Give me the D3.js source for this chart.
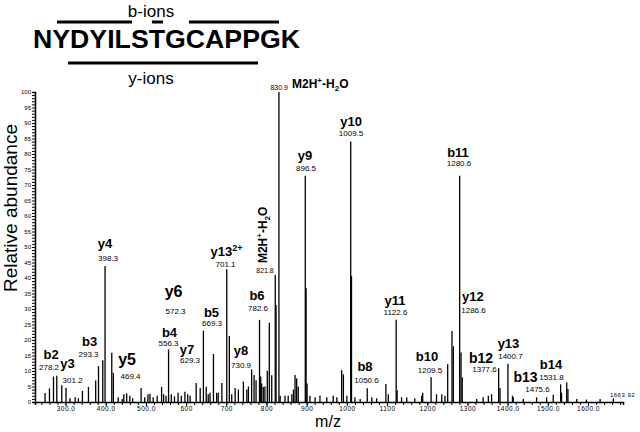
<!DOCTYPE html>
<html>
<head>
<meta charset="utf-8">
<script src="https://cdn.jsdelivr.net/npm/d3@7"></script>
<style>
  body { margin: 0; background: #fff; }
  svg { font-family: "Liberation Sans", Arial, sans-serif; }
</style>
</head>
<body>
<div id="chart"></div>
<script>
// peptide + fragment coverage
const sequence = "NYDYILSTGCAPPGK";

// labelled / major peaks: m/z and relative abundance (%)
const peakMz = [249, 260, 270, 278.2, 290.6, 301.2, 342, 357, 375, 382, 392.6, 398.3, 415, 419,
    488, 539, 556.3, 625, 635, 643, 650, 668, 676, 689, 701.1, 707.5, 722, 742.5, 763, 769,
    782.6, 785.6, 792, 802, 807, 813, 821.8, 823.7, 830.9, 871, 875, 879, 896.5, 898.5, 901,
    987, 991.3, 1009.5, 1011.5, 1050.6, 1097, 1122.6, 1125, 1188.6, 1209.5, 1250.8, 1261.5,
    1264.8, 1280.6, 1284, 1287, 1377.6, 1381, 1400.7, 1412, 1513.5, 1531.8, 1534, 1547, 1550];
const peakInt = [2.9, 4.4, 8.2, 8.5, 5.4, 4.6, 3.6, 4.9, 6.9, 11.6, 13.5, 43.9, 15.9, 9.4,
    4.5, 4.9, 17, 6.1, 4.5, 23, 4.9, 15.5, 3, 6.1, 42.8, 21.3, 4.5, 6.6, 10.5, 8.7,
    26.5, 8.2, 4.8, 10.1, 25.6, 8.6, 41, 31.3, 100, 8.7, 7.6, 5, 73, 36.7, 6,
    10.3, 8.9, 84, 40.6, 4.4, 5.8, 26.5, 3.8, 3, 8, 12.2, 22.9,
    18, 73, 16, 8, 10.9, 4.5, 12.3, 2, 2.3, 5.7, 3, 6.3, 4.2];

// small background peaks
const noiseMz = [311, 324, 332, 431, 441, 445, 452, 460, 467, 497, 505, 510, 518, 528, 544, 550,
    563, 571, 580, 588, 597, 604, 610, 655, 659.5, 680, 713.5, 730, 751, 755, 774, 788, 796,
    834, 846, 854, 863, 867, 908, 921, 933, 950, 966, 975, 1000, 1020, 1033, 1062, 1074,
    1103, 1136, 1149, 1169, 1186, 1223, 1236, 1244, 1323, 1339, 1352, 1360, 1414, 1439,
    1472, 1497, 1572, 1596, 1630, 1663];
const noiseInt = [1.2, 1.5, 1.2, 1.5, 1, 2.5, 2.8, 2, 1.2, 1.5, 2.5, 2.7, 1.5, 2, 2.5, 2,
    2.5, 1.8, 3, 2, 3.3, 2.5, 2, 2.5, 3, 3, 2.5, 4, 4, 5, 7, 6, 5,
    2, 2, 2, 2.5, 4, 2, 1.5, 2, 1.5, 2, 1.5, 2, 1.5, 1, 1.5, 1.2,
    2.5, 1.5, 1.5, 1.2, 2, 2.5, 2.5, 2, 1, 1.5, 2, 2.5, 1.5, 1,
    1.5, 1.5, 1, 0.8, 1, 1.2];

// ion annotations: name, m/z text, name anchor [m/z, %], number anchor [m/z, %], font size
const ionLabels = [
    ["b2", "278.2", 264.0, 13.9, 259.0, 10.3, 13],
    ["y3", "301.2", 305.0, 11.0, 317.5, 6.1, 13],
    ["b3", "293.3", 359.7, 18.1, 357.2, 14.5, 13],
    ["y4", "398.3", 398.3, 49.7, 405.8, 45.5, 13],
    ["y5", "469.4", 453.0, 11.9, 461.7, 7.4, 16],
    ["y6", "572.3", 568.7, 33.9, 573.7, 28.4, 16],
    ["b4", "556.3", 558.7, 21.0, 556.3, 18.1, 13],
    ["y7", "629.3", 602.3, 15.5, 609.7, 12.6, 13],
    ["b5", "669.3", 663.2, 27.4, 664.5, 24.5, 13],
    ["y8", "730.9", 736.6, 15.2, 736.6, 11.0, 13],
    ["b6", "782.6", 776.4, 32.9, 778.9, 29.4, 13],
    ["y9", "896.5", 895.8, 78.1, 898.3, 74.5, 13],
    ["y10", "1009.5", 1010.3, 89.0, 1010.3, 85.8, 13],
    ["b8", "1050.6", 1045.1, 10.0, 1048.8, 6.1, 13],
    ["y11", "1122.6", 1119.7, 31.3, 1120.9, 28.1, 13],
    ["b10", "1209.5", 1199.3, 13.2, 1206.8, 9.4, 13],
    ["b11", "1280.6", 1276.4, 79.0, 1278.9, 76.1, 13],
    ["y12", "1286.6", 1313.7, 32.6, 1315.0, 28.7, 13],
    ["b12", "1377.6", 1333.6, 12.6, 1342.4, 9.7, 14],
    ["y13", "1400.7", 1402.1, 17.4, 1407.0, 13.9, 13],
    ["b13", "1475.6", 1444.4, 6.5, 1474.2, 3.2, 14],
    ["b14", "1531.8", 1507.8, 10.6, 1509.0, 7.1, 13]
];

const xTicks = [300, 400, 500, 600, 700, 800, 900, 1000, 1100, 1200, 1300, 1400, 1500, 1600];
const xTickLabels = ["300.0", "400.0", "500.0", "600", "700", "800", "900", "1000", "1100", "1200", "1300", "1400.0", "1500.0", "1600.0"];

let width = 640, height = 432;
let x = d3.scaleLinear().domain([224, 1687]).range([35, 623]);
let y = d3.scaleLinear().domain([0, 100]).range([402, 92]);

let svg = d3.select('#chart').append('svg')
    .attr('width', width)
    .attr('height', height);

// --- sequence header
svg.append('text').attr('x', 151).attr('y', 17)
    .attr('text-anchor', 'middle').style('font-size', '17px').text('b-ions');
svg.append('text').attr('x', 33).attr('y', 48)
    .style('font-size', '25px').style('font-weight', 'bold')
    .attr('textLength', 267).attr('lengthAdjust', 'spacingAndGlyphs')
    .text(sequence);
[[57, 132, 22], [152, 163, 22], [189, 279, 22], [68, 258, 63]].forEach(function(s) {
    svg.append('line').attr('x1', s[0]).attr('x2', s[1]).attr('y1', s[2]).attr('y2', s[2])
        .attr('stroke', '#000').attr('stroke-width', 3);
});
svg.append('text').attr('x', 151).attr('y', 84)
    .attr('text-anchor', 'middle').style('font-size', '17px').text('y-ions');

// --- axes
let yAxis = d3.axisLeft(y)
    .tickValues(d3.range(0, 101, 1))
    .tickSize(3)
    .tickPadding(1)
    .tickFormat(function(d) { return d % 5 === 0 ? d : ''; });
svg.append('g').attr('transform', 'translate(35,0)').call(yAxis)
    .call(function(g) {
        g.select('.domain').attr('stroke-width', 1.5);
        g.selectAll('text').style('font-size', '6px').style('font-family', '"Liberation Sans", Arial, sans-serif');
    });

let xMinor = d3.axisBottom(x).tickValues(d3.range(240, 1681, 20)).tickSize(3).tickFormat('');
svg.append('g').attr('transform', 'translate(0,402)').call(xMinor)
    .call(function(g) { g.select('.domain').attr('stroke-width', 1.5); });

let xAxis = d3.axisBottom(x).tickValues(xTicks).tickSize(4).tickPadding(0)
    .tickFormat(function(d, i) { return xTickLabels[i]; });
svg.append('g').attr('transform', 'translate(0,402)').call(xAxis)
    .call(function(g) {
        g.select('.domain').remove();
        g.selectAll('text').style('font-size', '6.5px').style('letter-spacing', '0.5px')
            .style('font-family', '"Liberation Sans", Arial, sans-serif');
    });

// --- peaks
let peaks = peakMz.map(function(m, i) { return {mz: m, v: peakInt[i]}; })
    .concat(noiseMz.map(function(m, i) { return {mz: m, v: noiseInt[i]}; }));
svg.append('g').selectAll('line').data(peaks).enter().append('line')
    .attr('x1', function(d) { return x(d.mz); })
    .attr('x2', function(d) { return x(d.mz); })
    .attr('y1', y(0))
    .attr('y2', function(d) { return y(d.v); })
    .attr('stroke', '#000')
    .attr('stroke-width', 1.3);

// --- annotations
let ann = svg.append('g');
ionLabels.forEach(function(l) {
    ann.append('text').attr('x', x(l[2])).attr('y', y(l[3]))
        .attr('text-anchor', 'middle')
        .style('font-size', l[6] + 'px').style('font-weight', 'bold')
        .text(l[0]);
    ann.append('text').attr('x', x(l[4])).attr('y', y(l[5]))
        .attr('text-anchor', 'middle').style('font-size', '8px')
        .text(l[1]);
});

// y13 doubly charged
let y13 = ann.append('text').attr('x', x(700.5)).attr('y', y(47.1))
    .attr('text-anchor', 'middle').style('font-size', '13px').style('font-weight', 'bold');
y13.append('tspan').text('y13');
y13.append('tspan').attr('dy', -5).style('font-size', '9px').text('2+');
ann.append('text').attr('x', x(698.1)).attr('y', y(43.5))
    .attr('text-anchor', 'middle').style('font-size', '8px').text('701.1');

// water-loss precursor labels
function precursor(sel) {
    sel.append('tspan').text('M2H');
    sel.append('tspan').attr('dy', -5).style('font-size', '8px').text('+');
    sel.append('tspan').attr('dy', 5).text('-H');
    sel.append('tspan').attr('dy', 3).style('font-size', '8px').text('2');
    sel.append('tspan').attr('dy', -3).text('O');
}
let m1 = ann.append('text')
    .attr('transform', 'translate(' + x(801.3) + ',' + y(44.8) + ') rotate(-90)')
    .style('font-size', '12px').style('font-weight', 'bold');
precursor(m1);
ann.append('text').attr('x', x(796.3)).attr('y', y(41.6))
    .attr('text-anchor', 'middle').style('font-size', '7px').text('821.8');

ann.append('text').attr('x', x(853.5)).attr('y', y(100.6))
    .attr('text-anchor', 'end').style('font-size', '7px').text('830.9');
let m2 = ann.append('text').attr('x', x(863.5)).attr('y', y(101.3))
    .style('font-size', '12px').style('font-weight', 'bold');
precursor(m2);

ann.append('text').attr('x', x(1654.5)).attr('y', y(1.6))
    .style('font-size', '6px').style('letter-spacing', '0.5px').text('1663.92');

// --- axis titles
svg.append('text').attr('transform', 'translate(17,208) rotate(-90)')
    .attr('text-anchor', 'middle').style('font-size', '19px').text('Relative abundance');
svg.append('text').attr('x', 328).attr('y', 427)
    .attr('text-anchor', 'middle').style('font-size', '16px').text('m/z');
</script>
</body>
</html>
